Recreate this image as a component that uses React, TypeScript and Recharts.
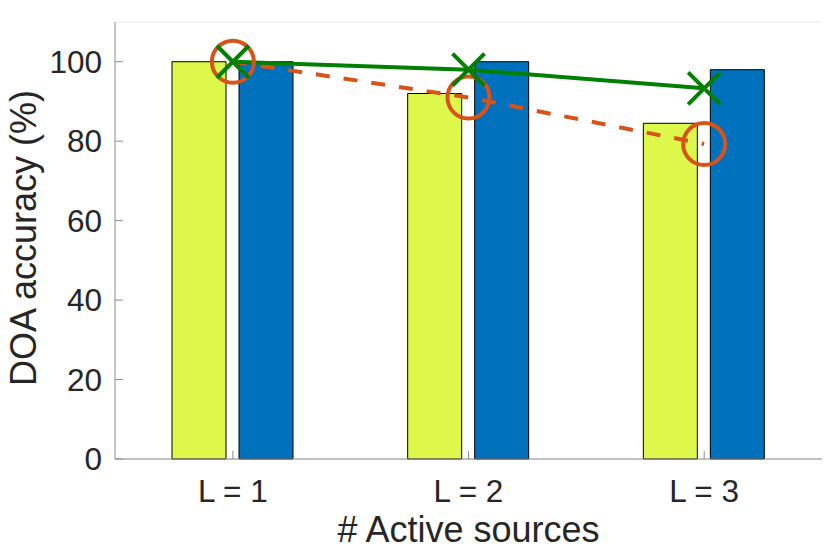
import React from 'react';
import { ComposedChart, Bar, Line, XAxis, YAxis, CartesianGrid, Label } from 'recharts';

const categories = ['L = 1', 'L = 2', 'L = 3'];
const barLeft = [100, 92, 84.5];
const barRight = [100, 100, 98];
const lineCross = [100, 98, 93.3];
const lineCircle = [100, 91, 79.3];
const yTicks = [0, 20, 40, 60, 80, 100];

const data = categories.map((name, i) => ({
  name,
  left: barLeft[i],
  right: barRight[i],
  cross: lineCross[i],
  circle: lineCircle[i],
}));

const FONT = '"Liberation Sans", Arial, Helvetica, sans-serif';
const TEXT = '#262626';
const AXIS = '#8c8c8c';

const LeftTick = (props: any) => {
  const { x, y, payload } = props;
  return (
    <g>
      <line x1={x} y1={y} x2={x + 8} y2={y} stroke={AXIS} strokeWidth={1} />
      <text x={x - 13} y={y + 11} textAnchor="end" fontSize={31.5} fontFamily={FONT} fill={TEXT}>
        {payload.value}
      </text>
    </g>
  );
};

const RightTick = (props: any) => {
  const { x, y } = props;
  return <line x1={x} y1={y} x2={x - 8} y2={y} stroke={AXIS} strokeWidth={1} />;
};

const BottomTick = (props: any) => {
  const { x, y, payload } = props;
  return (
    <g>
      <line x1={x} y1={y} x2={x} y2={y - 8} stroke={AXIS} strokeWidth={1} />
      <text x={x} y={y + 43} textAnchor="middle" fontSize={31.5} fontFamily={FONT} fill={TEXT}>
        {payload.value}
      </text>
    </g>
  );
};

const TopTick = (props: any) => {
  const { x, y } = props;
  return <line x1={x} y1={y} x2={x} y2={y + 8} stroke={AXIS} strokeWidth={1} />;
};

const CircleDot = (props: any) => {
  const { cx, cy } = props;
  if (cx == null || cy == null) return null;
  return <circle cx={cx} cy={cy} r={21} fill="none" stroke="#D95319" strokeWidth={4} />;
};

const CrossDot = (props: any) => {
  const { cx, cy } = props;
  if (cx == null || cy == null) return null;
  const s = 16;
  return (
    <g stroke="#008000" strokeWidth={4}>
      <line x1={cx - s} y1={cy - s} x2={cx + s} y2={cy + s} />
      <line x1={cx - s} y1={cy + s} x2={cx + s} y2={cy - s} />
    </g>
  );
};

export default function App() {
  return (
    <div style={{ position: 'absolute', left: 0, top: 0, width: 830, height: 551, background: '#fff' }}>
      <ComposedChart
        width={830}
        height={551}
        data={data}
        margin={{ top: 22, right: 8, bottom: 0, left: 0 }}
        barGap={13}
      >
        <CartesianGrid horizontal vertical={false} stroke="#ebebeb" />
        <XAxis
          xAxisId="bottom"
          dataKey="name"
          orientation="bottom"
          height={92}
          stroke={AXIS}
          tickLine={false}
          tickSize={0}
          tickMargin={0}
          tick={<BottomTick />}
          interval={0}
        >
          <Label
            content={() => (
              <text x={468.5} y={542} textAnchor="middle" fontSize={36} fontFamily={FONT} fill={TEXT}>
                # Active sources
              </text>
            )}
          />
        </XAxis>
        <XAxis
          xAxisId="top"
          dataKey="name"
          orientation="top"
          height={0}
          stroke={AXIS}
          tickLine={false}
          tickSize={0}
          tickMargin={0}
          tick={<TopTick />}
          interval={0}
        />
        <YAxis
          yAxisId="left"
          orientation="left"
          width={115}
          domain={[0, 110]}
          ticks={yTicks}
          stroke={AXIS}
          tickLine={false}
          tickSize={0}
          tickMargin={0}
          tick={<LeftTick />}
          interval={0}
        >
          <Label
            content={() => (
              <text
                x={36}
                y={238}
                transform="rotate(-90 36 238)"
                textAnchor="middle"
                fontSize={36}
                fontFamily={FONT}
                fill={TEXT}
              >
                DOA accuracy (%)
              </text>
            )}
          />
        </YAxis>
        <YAxis
          yAxisId="right"
          orientation="right"
          width={0}
          domain={[0, 110]}
          ticks={yTicks}
          stroke={AXIS}
          tickLine={false}
          tickSize={0}
          tickMargin={0}
          tick={<RightTick />}
          interval={0}
        />
        <Bar
          dataKey="left"
          xAxisId="bottom"
          yAxisId="left"
          fill="#DEF74B"
          stroke="#000"
          strokeWidth={1}
          barSize={54}
          isAnimationActive={false}
        />
        <Bar
          dataKey="right"
          xAxisId="bottom"
          yAxisId="left"
          fill="#0072BD"
          stroke="#000"
          strokeWidth={1}
          barSize={54}
          isAnimationActive={false}
        />
        <Line
          dataKey="circle"
          xAxisId="bottom"
          yAxisId="left"
          type="linear"
          stroke="#D95319"
          strokeWidth={4}
          strokeDasharray="14 14"
          dot={<CircleDot />}
          activeDot={false}
          isAnimationActive={false}
        />
        <Line
          dataKey="cross"
          xAxisId="bottom"
          yAxisId="left"
          type="linear"
          stroke="#008000"
          strokeWidth={4}
          dot={<CrossDot />}
          activeDot={false}
          isAnimationActive={false}
        />
      </ComposedChart>
    </div>
  );
}
